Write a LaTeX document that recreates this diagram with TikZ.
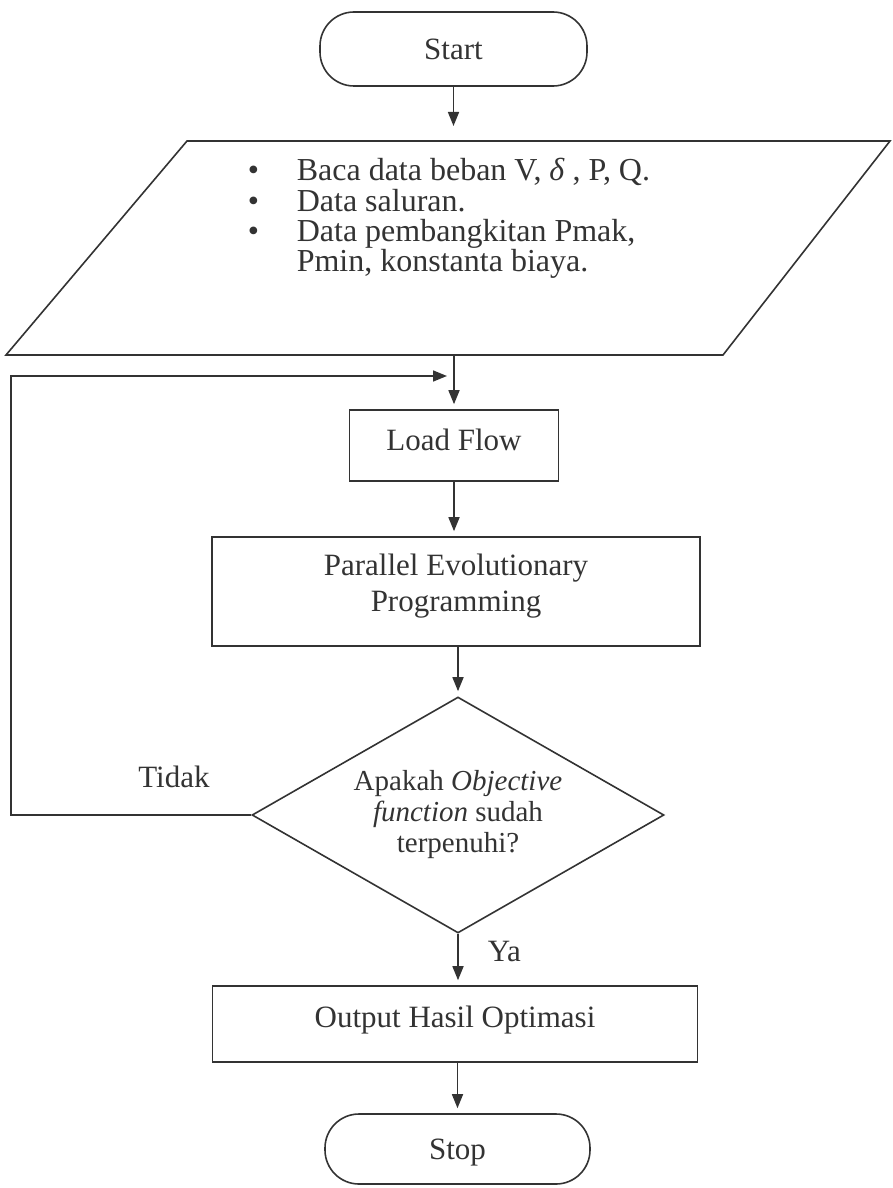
\documentclass[tikz,border=0pt]{standalone}
\usepackage{fontspec}
\setmainfont{Liberation Serif}
\usetikzlibrary{arrows.meta,shapes.geometric}
\definecolor{ink}{HTML}{333333}
\newcommand\fA{\fontsize{31}{36}\selectfont}
\newcommand\fB{\fontsize{32}{30}\selectfont}
\newcommand\fC{\fontsize{29}{31}\selectfont}
\newcommand\bul{\makebox[48pt][l]{\hspace{-1pt}\textbullet}}
\begin{document}
\begin{tikzpicture}[x=1pt,y=-1pt,line width=1.6pt,draw=ink,text=ink,
  box/.style={draw,rectangle,inner sep=0pt,align=center,font=\fA},
  term/.style={draw,rectangle,inner sep=0pt,font=\fA,rounded corners=34pt},
  arr/.style={-{Triangle[length=14pt,width=11pt]},shorten >=5pt},
  lbl/.style={font=\fA,inner sep=0pt},
  itemline/.style={anchor=base west,inner sep=0pt,font=\fB}]
\useasboundingbox (0,0) rectangle (893,1188);
% start
\node[term,minimum width=267pt,minimum height=74pt] (start) at (453.5,49) {Start};
% input parallelogram
\coordinate (p1) at (187,141);
\coordinate (p2) at (890,141);
\coordinate (p3) at (723,355);
\coordinate (p4) at (6,355);
\draw (p1) -- (p2) -- (p3) -- (p4) -- cycle;
\coordinate (inTop) at (453.5,141);
\coordinate (inBot) at (454,355);
\node[itemline] (in1) at (248,180) {\bul Baca data beban V, \textit{δ} , P, Q.};
\node[itemline] (in2) at (248,211) {\bul Data saluran.};
\node[itemline] (in3) at (248,241) {\bul Data pembangkitan Pmak,};
\node[itemline] (in4) at (296,271) {Pmin, konstanta biaya.};
% load flow
\node[box,minimum width=209pt,minimum height=71pt,text depth=12pt] (load) at (454,445.5) {Load Flow};
% PEP
\node[box,minimum width=488pt,minimum height=109pt,text depth=18pt] (pep) at (456,591.5) {Parallel Evolutionary\\Programming};
% decision
\node[draw,diamond,shape aspect=1.746,minimum width=412pt,minimum height=236pt,inner sep=0pt,align=center,font=\fC] (dec) at (458,815) {Apakah \textit{Objective}\\\textit{function} sudah\\terpenuhi?};
% output
\node[box,minimum width=485pt,minimum height=76pt,text depth=15pt] (out) at (455,1024) {Output Hasil Optimasi};
% stop
\node[term,minimum width=265pt,minimum height=70pt,text depth=0pt] (stop) at (457.5,1149) {Stop};
% labels
\node[lbl,anchor=base] (tidak) at (174,787) {Tidak};
\node[lbl,anchor=base west] (ya) at (487,961) {Ya};
% connectors
\coordinate (leftX) at (11,376);
\coordinate (loopEnd) at (447,376);
\draw[arr,shorten >=15pt] (start.south) -- (inTop);
\draw[arr] (inBot) -- (inBot |- load.north);
\draw[arr] (load.south) -- (load.south |- pep.north);
\draw[arr] (dec.north |- pep.south) -- (dec.north);
\draw[arr] (dec.south) -- (dec.south |- out.north);
\draw[arr] (out.south -| stop.north) -- (stop.north);
\draw[arr,shorten >=0pt] (dec.west) -| (leftX) -- (loopEnd);
\end{tikzpicture}
\end{document}
